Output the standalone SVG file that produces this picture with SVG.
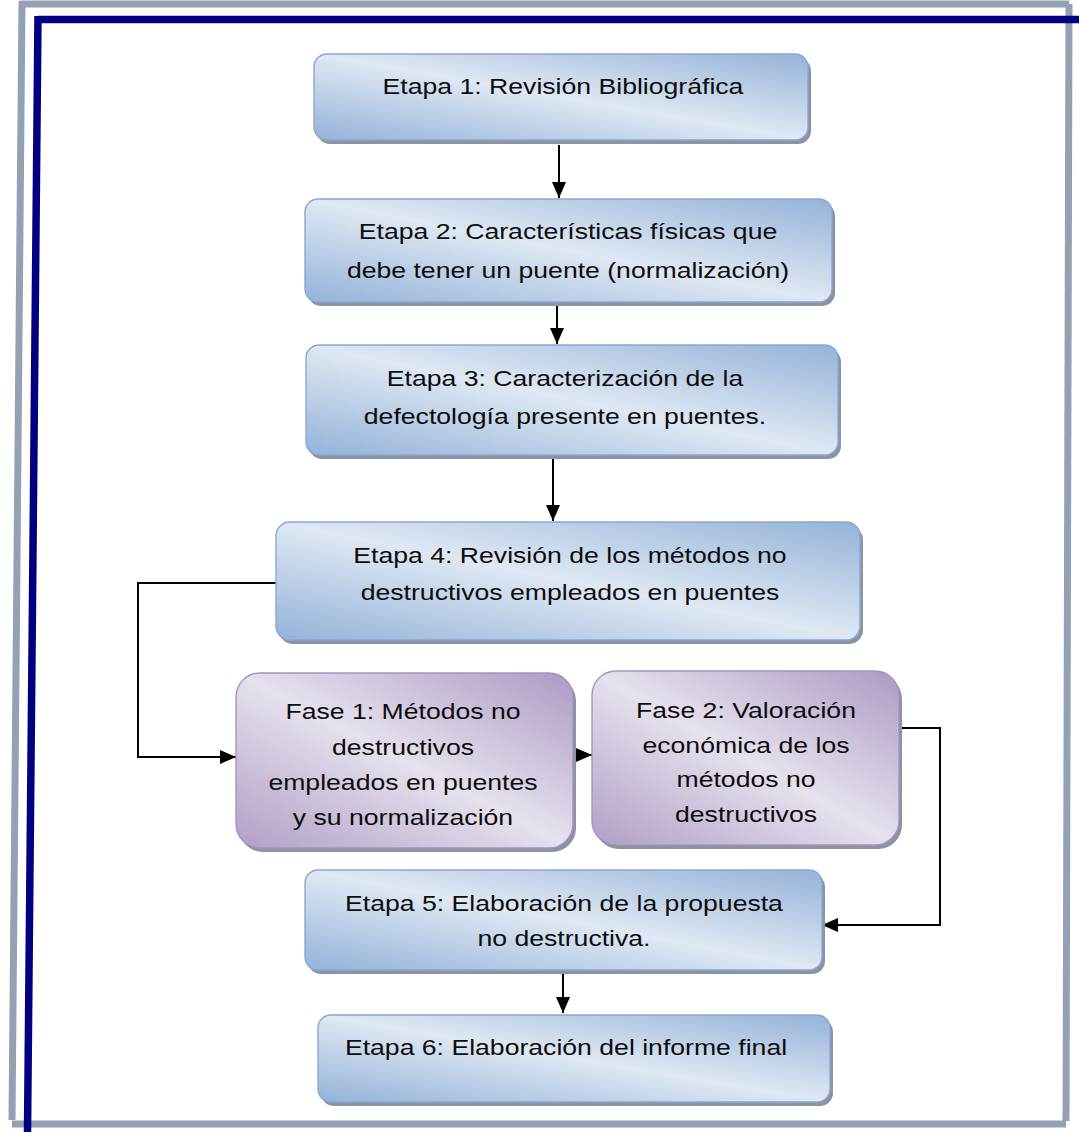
<svg xmlns="http://www.w3.org/2000/svg" width="1079" height="1132" viewBox="0 0 1079 1132">
<style>
.gray{stroke:#94a1b3;stroke-width:7;fill:none}
.navy{stroke:#000080;stroke-width:7.5;fill:none}
.bbox{fill:url(#gBlue);stroke:#8aa7d4;stroke-width:1.4}
.pbox{fill:url(#gPurple);stroke:#a693c0;stroke-width:1.4}
.shadow{fill:#8a94a2}
.t{font-family:"Liberation Sans",Arial,sans-serif;font-size:22px;fill:#0d0d0d;text-anchor:middle}
.con{stroke:#000;stroke-width:2;fill:none}
</style>
<defs>
<linearGradient id="gBlue" x1="0" y1="1" x2="1" y2="0">
<stop offset="0" stop-color="#94b2d9"/>
<stop offset="0.5" stop-color="#dfe8f3"/>
<stop offset="1" stop-color="#95b2d9"/>
</linearGradient>
<linearGradient id="gPurple" x1="0" y1="1" x2="1" y2="0">
<stop offset="0" stop-color="#b09fc6"/>
<stop offset="0.5" stop-color="#e6e1ed"/>
<stop offset="1" stop-color="#ac9ac4"/>
</linearGradient>
<linearGradient id="gEdge" x1="0" y1="0" x2="0" y2="1">
<stop offset="0" stop-color="#000080" stop-opacity="0"/>
<stop offset="1" stop-color="#000080" stop-opacity="1"/>
</linearGradient>
<marker id="ah" markerUnits="userSpaceOnUse" markerWidth="16" markerHeight="14" viewBox="0 0 16 14" refX="16" refY="7" orient="auto">
<path d="M0,0 L16,7 L0,14 Z" fill="#000"/>
</marker>
</defs>

<g id="frame">
<line class="gray" x1="20" y1="4" x2="1069" y2="4"/>
<line class="gray" x1="22" y1="1" x2="12" y2="1120"/>
<line class="gray" x1="1069" y1="4" x2="1066" y2="1121"/>
<line class="gray" x1="12" y1="1124" x2="1066" y2="1124"/>
<line class="navy" x1="38" y1="19.5" x2="1079" y2="19.5"/>
<line class="navy" x1="38" y1="16" x2="27.5" y2="1132"/>
<line x1="1078" y1="555" x2="1078" y2="1132" stroke="url(#gEdge)" stroke-width="1.6"/>
</g>

<g id="connectors">
<line class="con" x1="559" y1="145" x2="559" y2="198" marker-end="url(#ah)"/>
<line class="con" x1="557" y1="306" x2="557" y2="344" marker-end="url(#ah)"/>
<line class="con" x1="553" y1="459" x2="553" y2="521" marker-end="url(#ah)"/>
<polyline class="con" points="276,583 138,583 138,757 236,757" marker-end="url(#ah)"/>
<line class="con" x1="557" y1="755" x2="592" y2="755" marker-end="url(#ah)"/>
<polyline class="con" points="899,728 940,728 940,925 822,925" marker-end="url(#ah)"/>
<line class="con" x1="563" y1="974" x2="563" y2="1013" marker-end="url(#ah)"/>
</g>

<g id="etapa1">
<rect class="shadow" x="317" y="58" width="494" height="86" rx="13"/>
<rect class="bbox" x="314" y="54" width="494" height="86" rx="13"/>
<text class="t" transform="matrix(1.21 0 0 1 563 94)">Etapa 1: Revisión Bibliográfica</text>
</g>

<g id="etapa2">
<rect class="shadow" x="308" y="203" width="527" height="103" rx="13"/>
<rect class="bbox" x="305" y="199" width="527" height="103" rx="13"/>
<text class="t" transform="matrix(1.21 0 0 1 568 239)">Etapa 2: Características físicas que</text>
<text class="t" transform="matrix(1.21 0 0 1 568 278)">debe tener un puente (normalización)</text>
</g>

<g id="etapa3">
<rect class="shadow" x="309" y="349" width="532" height="110" rx="13"/>
<rect class="bbox" x="306" y="345" width="532" height="110" rx="13"/>
<text class="t" transform="matrix(1.21 0 0 1 565 386)">Etapa 3: Caracterización de la</text>
<text class="t" transform="matrix(1.21 0 0 1 565 424)">defectología presente en puentes.</text>
</g>

<g id="etapa4">
<rect class="shadow" x="279" y="526" width="584" height="118" rx="14"/>
<rect class="bbox" x="276" y="522" width="584" height="118" rx="14"/>
<text class="t" transform="matrix(1.21 0 0 1 570 563)">Etapa 4: Revisión de los métodos no</text>
<text class="t" transform="matrix(1.21 0 0 1 570 600)">destructivos empleados en puentes</text>
</g>

<g id="fase1">
<rect class="shadow" x="239" y="677" width="337" height="175" rx="24"/>
<rect class="pbox" x="236" y="673" width="337" height="175" rx="24"/>
<text class="t" transform="matrix(1.21 0 0 1 403 719)">Fase 1: Métodos no</text>
<text class="t" transform="matrix(1.21 0 0 1 403 755)">destructivos</text>
<text class="t" transform="matrix(1.21 0 0 1 403 790)">empleados en puentes</text>
<text class="t" transform="matrix(1.21 0 0 1 403 825)">y su normalización</text>
</g>

<g id="fase2">
<rect class="shadow" x="595" y="675" width="307" height="174" rx="24"/>
<rect class="pbox" x="592" y="671" width="307" height="174" rx="24"/>
<text class="t" transform="matrix(1.21 0 0 1 746 718)">Fase 2: Valoración</text>
<text class="t" transform="matrix(1.21 0 0 1 746 753)">económica de los</text>
<text class="t" transform="matrix(1.21 0 0 1 746 787)">métodos no</text>
<text class="t" transform="matrix(1.21 0 0 1 746 822)">destructivos</text>
</g>

<g id="etapa5">
<rect class="shadow" x="308" y="874" width="517" height="100" rx="13"/>
<rect class="bbox" x="305" y="870" width="517" height="100" rx="13"/>
<text class="t" transform="matrix(1.21 0 0 1 564 911)">Etapa 5: Elaboración de la propuesta</text>
<text class="t" transform="matrix(1.21 0 0 1 564 946)">no destructiva.</text>
</g>

<g id="etapa6">
<rect class="shadow" x="321" y="1019" width="512" height="87" rx="13"/>
<rect class="bbox" x="318" y="1015" width="512" height="87" rx="13"/>
<text class="t" transform="matrix(1.21 0 0 1 566 1055)">Etapa 6: Elaboración del informe final</text>
</g>
</svg>
